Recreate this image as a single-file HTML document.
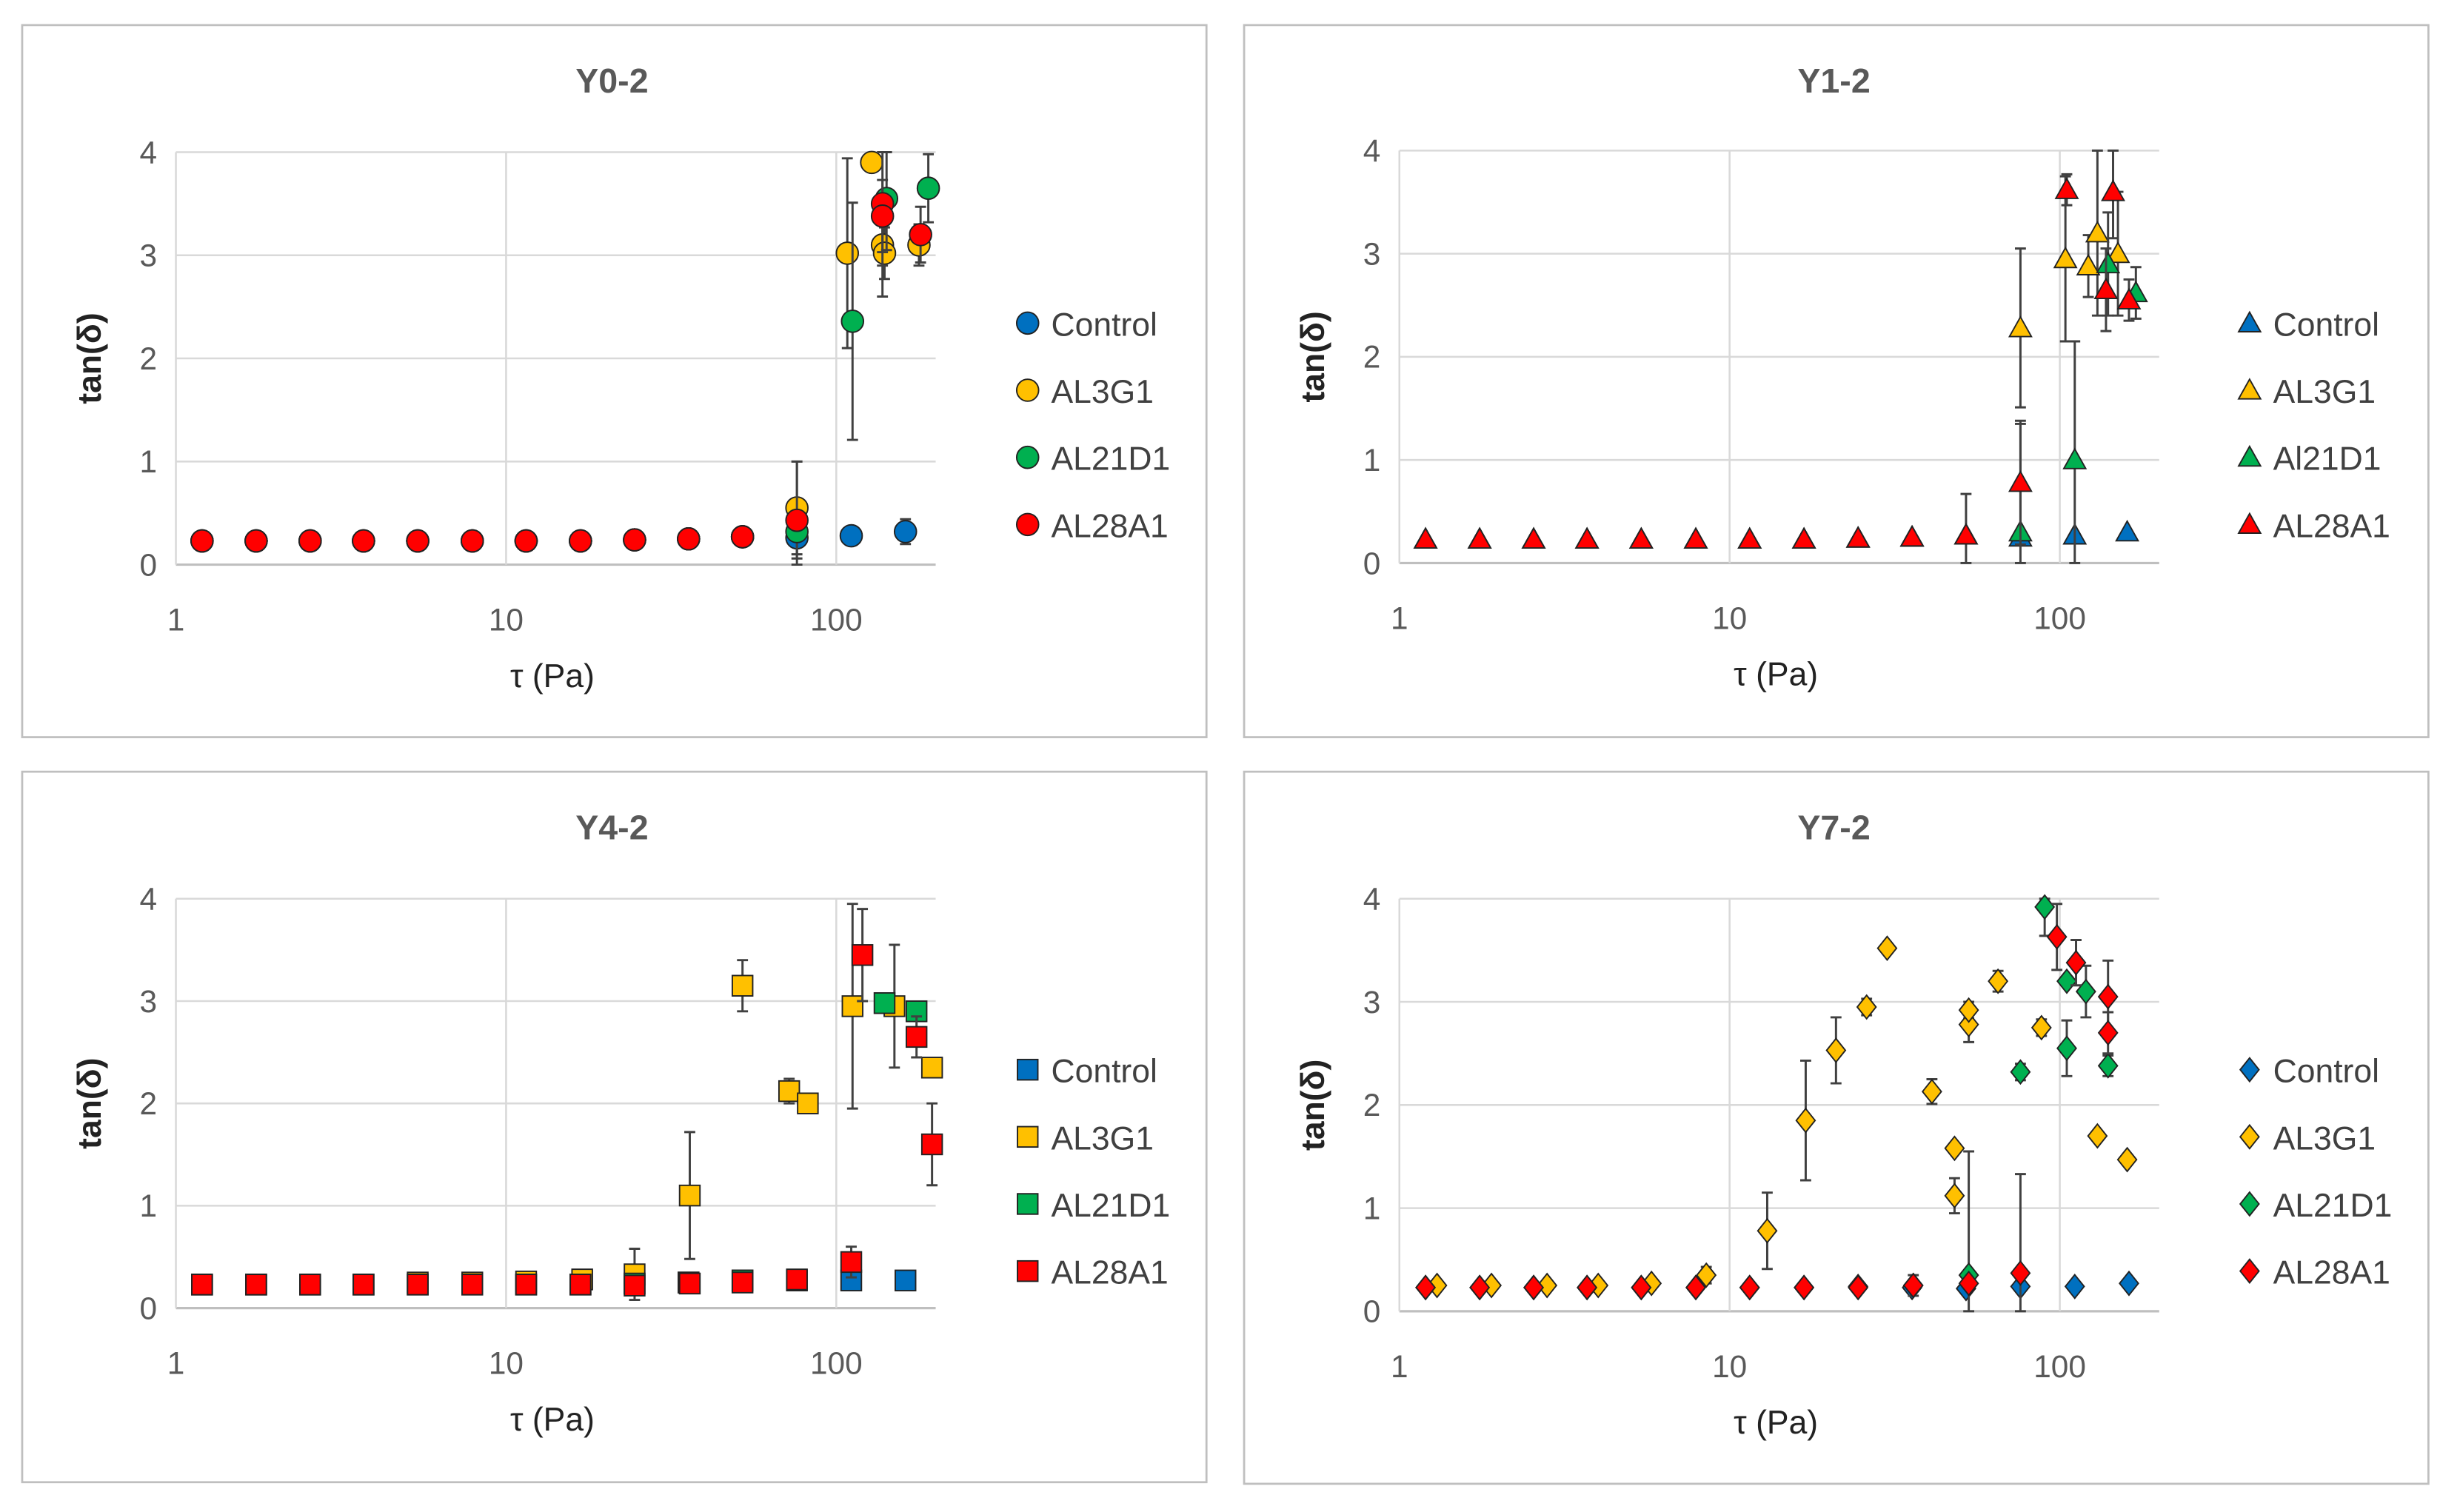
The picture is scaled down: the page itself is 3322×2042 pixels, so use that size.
<!DOCTYPE html>
<html><head><meta charset="utf-8"><style>
html,body{margin:0;padding:0;background:#fff}
svg{display:block;font-family:"Liberation Sans",sans-serif}
</style></head><body>
<svg id="fig" width="3322" height="2042" viewBox="0 0 1568 964" xmlns="http://www.w3.org/2000/svg"></svg>
<script>
// ---- data ----
const lowX = [1.2,1.75,2.55,3.7,5.4,7.9,11.5,16.8,24.5,35.7,52];
const lowY = [0.23,0.23,0.23,0.23,0.23,0.23,0.23,0.23,0.24,0.25,0.27];
const seriesNames = ["Control","AL3G1","AL21D1","AL28A1"];
const seriesNamesY1 = ["Control","AL3G1","Al21D1","AL28A1"];
const colors = ["#0070C0","#FFC000","#00B050","#FF0000"];
const titles = ["Y0-2","Y1-2","Y4-2","Y7-2"];
const xTicks = [1,10,100];
const yTicks = [0,1,2,3,4];

// Y0-2
const p0ControlX = lowX.concat([76,111,162]);
const p0ControlY = lowY.concat([0.26,0.28,0.32]);
const p0ControlE = [0,0,0,0,0,0,0,0,0,0,0,0.2,0,0.12];
const p0AL3X = lowX.concat([76,108,128,138,140,178]);
const p0AL3Y = lowY.concat([0.55,3.02,3.9,3.1,3.02,3.1]);
const p0AL3E = [0,0,0,0,0,0,0,0,0,0,0,0.45,0.92,0,0.5,0.25,0.2];
const p0AL21X = lowX.concat([76,112,142,190]);
const p0AL21Y = lowY.concat([0.32,2.36,3.55,3.65]);
const p0AL21E = [0,0,0,0,0,0,0,0,0,0,0,0.68,1.15,0.5,0.33];
const p0AL28X = lowX.concat([76,138,138,180]);
const p0AL28Y = lowY.concat([0.43,3.5,3.38,3.2]);
const p0AL28E = [0,0,0,0,0,0,0,0,0,0,0,0,0.6,0.35,0.27];

// Y1-2
const p1ControlX = lowX.concat([76,111,160]);
const p1ControlY = lowY.concat([0.25,0.27,0.3]);
const p1ControlE = [];
const p1AL3X = lowX.concat([76,104,122,130,150]);
const p1AL3Y = lowY.concat([2.28,2.95,2.88,3.2,3.0]);
const p1AL3E = [0,0,0,0,0,0,0,0,0,0,0,0.77,0.8,0.3,0.8,0.6];
const p1AL21X = lowX.concat([76,111,140,170]);
const p1AL21Y = lowY.concat([0.3,1.0,2.9,2.62]);
const p1AL21E = [0,0,0,0,0,0,0,0,0,0,0,1.05,1.15,0.5,0.25];
const p1AL28X = lowX.concat([76,105,138,145,162]);
const p1AL28Y = lowY.concat([0.78,3.62,2.65,3.6,2.55]);
const p1AL28E = [0,0,0,0,0,0,0,0,0,0,0.4,0.6,0.15,0.4,0.45,0.2];

// Y4-2
const p2ControlX = lowX.concat([76,111,162]);
const p2ControlY = lowY.concat([0.27,0.27,0.27]);
const p2ControlE = [];
const p2AL3X = [1.2,1.75,2.55,3.7,5.4,7.9,11.5,17,24.5,36,52,72,82,112,150,195];
const p2AL3Y = [0.23,0.23,0.23,0.23,0.25,0.25,0.26,0.28,0.33,1.1,3.15,2.12,2.0,2.95,2.95,2.35];
const p2AL3E = [0,0,0,0,0,0,0,0,0.25,0.62,0.25,0.12,0,1.0,0.6,0];
const p2AL21X = lowX.concat([140,175]);
const p2AL21Y = lowY.concat([2.98,2.9]);
const p2AL21E = [];
const p2AL28X = [1.2,1.75,2.55,3.7,5.4,7.9,11.5,16.8,24.5,36,52,76,111,120,175,195];
const p2AL28Y = [0.23,0.23,0.23,0.23,0.23,0.23,0.23,0.23,0.22,0.24,0.25,0.28,0.45,3.45,2.65,1.6];
const p2AL28E = [0,0,0,0,0,0,0,0,0,0,0,0,0.15,0.45,0.2,0.4];

// Y7-2
const p3ControlX = lowX.concat([76,111,162]);
const p3ControlY = [0.23,0.23,0.23,0.23,0.23,0.23,0.23,0.23,0.23,0.23,0.22,0.24,0.24,0.27];
const p3ControlE = [];
const p3AL3X = [1.3,1.9,2.8,4.0,5.8,8.5,13,17,21,26,30,41,48,48,53,53,65,88,130,160];
const p3AL3Y = [0.25,0.25,0.25,0.25,0.27,0.35,0.78,1.85,2.53,2.95,3.52,2.13,1.58,1.12,2.78,2.92,3.2,2.75,1.7,1.47];
const p3AL3E = [0,0,0,0,0,0.08,0.37,0.58,0.32,0.08,0,0.12,0,0.17,0.17,0.08,0.1,0.08,0,0];
const p3AL21X = [1.2,1.75,2.55,3.7,5.4,7.9,11.5,16.8,24.5,36,53,76,90,105,105,120,140];
const p3AL21Y = [0.23,0.23,0.23,0.23,0.23,0.23,0.23,0.23,0.24,0.25,0.35,2.32,3.92,3.2,2.55,3.1,2.38];
const p3AL21E = [0,0,0,0,0,0,0,0,0,0.1,1.2,0.08,0.28,0,0.27,0.25,0.1];
const p3AL28X = [1.2,1.75,2.55,3.7,5.4,7.9,11.5,16.8,24.5,36,53,76,98,112,140,140];
const p3AL28Y = [0.23,0.23,0.23,0.23,0.23,0.23,0.23,0.23,0.23,0.25,0.27,0.37,3.63,3.38,3.05,2.7];
const p3AL28E = [0,0,0,0,0,0,0,0,0,0,0,0.96,0.32,0.22,0.35,0.2];

const panelsData = [
 [[p0ControlX,p0ControlY,p0ControlE],[p0AL3X,p0AL3Y,p0AL3E],[p0AL21X,p0AL21Y,p0AL21E],[p0AL28X,p0AL28Y,p0AL28E]],
 [[p1ControlX,p1ControlY,p1ControlE],[p1AL3X,p1AL3Y,p1AL3E],[p1AL21X,p1AL21Y,p1AL21E],[p1AL28X,p1AL28Y,p1AL28E]],
 [[p2ControlX,p2ControlY,p2ControlE],[p2AL3X,p2AL3Y,p2AL3E],[p2AL21X,p2AL21Y,p2AL21E],[p2AL28X,p2AL28Y,p2AL28E]],
 [[p3ControlX,p3ControlY,p3ControlE],[p3AL3X,p3AL3Y,p3AL3E],[p3AL21X,p3AL21Y,p3AL21E],[p3AL28X,p3AL28Y,p3AL28E]]
];
const markerShapes = ["circle","triangle","square","diamond"];

// ---- layout ----
const NS = "http://www.w3.org/2000/svg";
const svg = document.getElementById('fig');
const layouts = [
 {bx:14,by:16,bw:755,bh:454,px:112,py0:360,py4:97},
 {bx:793,by:16,bw:755,bh:454,px:892,py0:359,py4:96},
 {bx:14,by:492,bw:755,bh:453,px:112,py0:834,py4:573},
 {bx:793,by:492,bw:755,bh:454,px:892,py0:836,py4:573}
];
const DEC = 210.5, XMAX = 200;
function mk(tag, attrs, parent){const e=document.createElementNS(NS,tag);for(const k in attrs)e.setAttribute(k,attrs[k]);(parent||svg).appendChild(e);return e;}

function marker(shape, x, y, color, g){
  let e;
  if(shape==="circle") e=mk('circle',{cx:x,cy:y,r:7,fill:color,stroke:'#222','stroke-width':0.9},g);
  else if(shape==="triangle") e=mk('polygon',{points:`${x},${y-7} ${x+7},${y+5.5} ${x-7},${y+5.5}`,fill:color,stroke:'#222','stroke-width':0.9},g);
  else if(shape==="square") e=mk('rect',{x:x-6.5,y:y-6.5,width:13,height:13,fill:color,stroke:'#222','stroke-width':0.9},g);
  else e=mk('polygon',{points:`${x},${y-7.5} ${x+6},${y} ${x},${y+7.5} ${x-6},${y}`,fill:color,stroke:'#222','stroke-width':0.9},g);
  return e;
}

layouts.forEach((L,pi)=>{
  const g=mk('g',{});
  
  
  const xs=v=>L.px+DEC*Math.log10(v);
  const ys=v=>L.py0-(L.py0-L.py4)*v/4;
  const right=xs(XMAX);
  const frame=mk('rect',{x:L.bx,y:L.by,width:L.bw,height:L.bh,fill:'#fff',stroke:'#bfbfbf','stroke-width':1.3},g);
  
  
  yTicks.forEach(t=>{
    const l=mk('line',{x1:L.px,x2:right,y1:ys(t),y2:ys(t),stroke:t===0?'#bfbfbf':'#d9d9d9','stroke-width':t===0?1.5:1.2},g);
    
    
    const tx=mk('text',{x:L.px-12,y:ys(t)+7,'text-anchor':'end','font-size':20,fill:'#595959'},g);
    tx.textContent=t;
    
    
  });
  xTicks.forEach(t=>{
    const l=mk('line',{x1:xs(t),x2:xs(t),y1:L.py4,y2:L.py0,stroke:'#d9d9d9','stroke-width':1.2},g);
    
    
    const tx=mk('text',{x:xs(t),y:L.py0+42,'text-anchor':'middle','font-size':20,fill:'#595959'},g);
    tx.textContent=t;
    
    
  });
  const ttl=mk('text',{x:L.bx+376,y:L.by+43,'text-anchor':'middle','font-size':22,'font-weight':'bold',fill:'#595959'},g);
  ttl.textContent=titles[pi];
  
  
  const xt=mk('text',{x:L.px+240,y:L.py0+78,'text-anchor':'middle','font-size':21,fill:'#222'},g);
  xt.textContent='τ (Pa)';
  
  
  const cy=(L.py0+L.py4)/2;
  const yt=mk('text',{x:0,y:0,'text-anchor':'middle','font-size':21,'font-weight':'bold',fill:'#222',transform:`translate(${L.px-48},${cy}) rotate(-90)`},g);
  yt.textContent='tan(δ)';
  
  
  panelsData[pi].forEach((s,si)=>{
    const sg=mk('g',{},g);
    
    
    const [X,Y,E]=s;
    X.forEach((xv,i)=>{
      const e=E[i]||0;
      if(e>0){
        const x=xs(xv), top=ys(Math.min(4,Y[i]+e)), bot=ys(Math.max(0,Y[i]-e));
        const eb=mk('path',{d:`M${x},${top}V${bot}M${x-3.5},${top}H${x+3.5}M${x-3.5},${bot}H${x+3.5}`,stroke:'#404040','stroke-width':1.4,fill:'none'},sg);
        
        
      }
    });
    X.forEach((xv,i)=>{
      const m=marker(markerShapes[pi],xs(xv),ys(Y[i]),colors[si],sg);
      
      
    });
  });
  const names = pi===1?seriesNamesY1:seriesNames;
  names.forEach((n,si)=>{
    const lg=mk('g',{},g);
    
    
    const ly=L.by+190+si*42.8;
    marker(markerShapes[pi],L.bx+641,ly,colors[si],lg);
    const t=mk('text',{x:L.bx+656,y:ly+8,'font-size':21,fill:'#404040'},lg);
    t.textContent=n;
  });
});
</script>
</body></html>
